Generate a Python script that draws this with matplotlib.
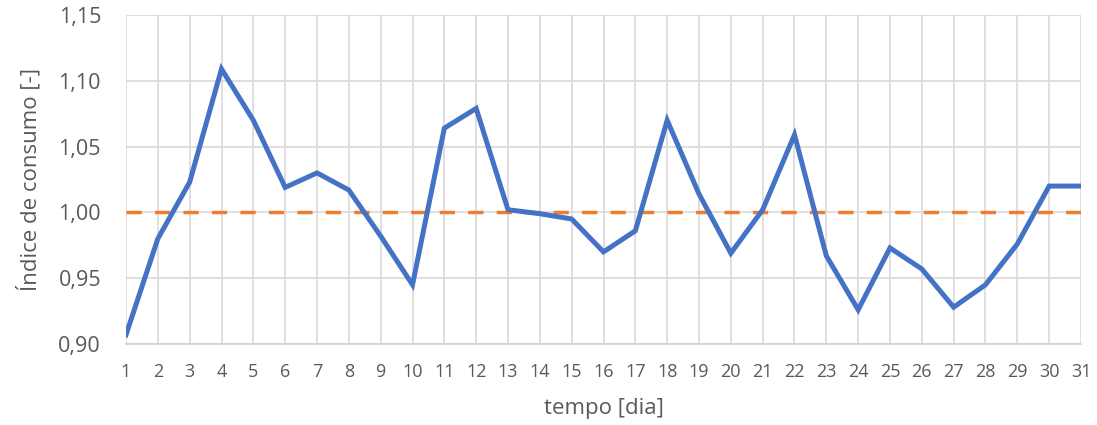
import matplotlib
matplotlib.use("Agg")
import matplotlib.pyplot as plt
from matplotlib.ticker import FuncFormatter

plt.rcParams['font.family'] = ['Open Sans', 'DejaVu Sans']

# Daily consumption index over one month
dias = list(range(1, 32))
indice = [0.907, 0.980, 1.023, 1.109, 1.070, 1.019, 1.030, 1.017, 0.982, 0.945,
          1.064, 1.079, 1.002, 0.999, 0.995, 0.970, 0.986, 1.070, 1.014, 0.969,
          1.002, 1.059, 0.967, 0.926, 0.973, 0.957, 0.928, 0.945, 0.976, 1.020,
          1.020]
referencia = [1.00] * len(dias)

y_ticks = [0.90, 0.95, 1.00, 1.05, 1.10, 1.15]

fig = plt.figure(figsize=(10.97, 4.25), dpi=100)
ax = fig.add_axes([126 / 1097, 1 - 344 / 425, (1081 - 126) / 1097, (344 - 15) / 425])

ax.plot(dias, referencia, color='#ED7D31', lw=2.5, dashes=(4.4, 3.8), zorder=3)
ax.plot(dias, indice, color='#4472C4', lw=3.6, solid_joinstyle='miter', zorder=4)

ax.set_xlim(1, 31)
ax.set_ylim(0.90, 1.15)
ax.set_xticks(dias)
ax.set_yticks(y_ticks)
ax.yaxis.set_major_formatter(FuncFormatter(lambda v, _: f"{v:.2f}".replace('.', ',')))

ax.grid(True, color='#d9d9d9', lw=1.2, zorder=0)
for side in ['top', 'right', 'left']:
    ax.spines[side].set_visible(False)
ax.spines['bottom'].set_color('#d0d0d0')
ax.spines['bottom'].set_linewidth(1.2)

ax.tick_params(axis='both', length=0, colors='#595959')
ax.tick_params(axis='x', labelsize=13, pad=14)
ax.tick_params(axis='y', labelsize=15.5, pad=18)

ax.set_xlabel('tempo [dia]', fontsize=16, color='#595959', labelpad=12)
ax.set_ylabel('Índice de consumo [-]', fontsize=16, color='#595959', labelpad=12)

fig.savefig('out.png', dpi=100)
